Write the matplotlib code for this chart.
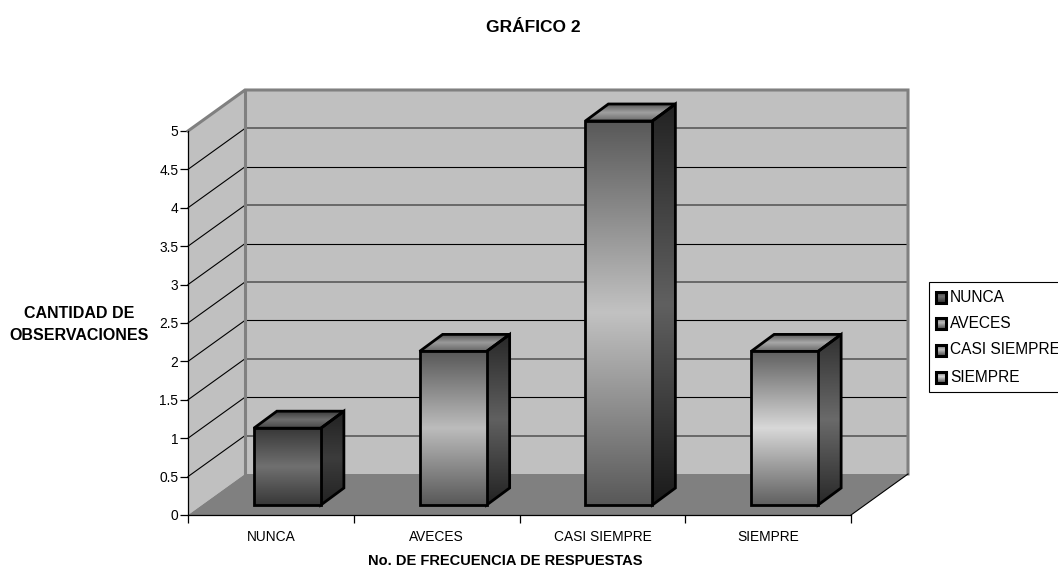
import numpy as np
import matplotlib
matplotlib.use('Agg')
import matplotlib.pyplot as plt
from matplotlib.colors import LinearSegmentedColormap
from matplotlib.patches import Polygon, Rectangle

plt.rcParams['font.family'] = ['Liberation Sans', 'DejaVu Sans']

categories = ['NUNCA', 'AVECES', 'CASI SIEMPRE', 'SIEMPRE']
values = [1, 2, 5, 2]
yticks = [0, 0.5, 1, 1.5, 2, 2.5, 3, 3.5, 4, 4.5, 5]
yticklabels = ['0', '0.5', '1', '1.5', '2', '2.5', '3', '3.5', '4', '4.5', '5']

W, H = 1058, 567
# front plane of the fake 3d box, in pixels
L, R, T, B = 188, 851, 131, 515
XU = (R - L) / 4.0
YU = (B - T) / 5.0

# depth of the box and of the bars, in data units
DX, DY = 57 / XU, 41 / YU
BAR_W = 67 / XU
BAR_DX, BAR_DY = 23 / XU, 17 / YU
BAR_SHIFT, BAR_BASE = 16.5 / XU, 10 / YU

front_cols = [('#383838', '#707070', '#383838'),
              ('#585858', '#bcbcbc', '#585858'),
              ('#585858', '#c2c2c2', '#585858'),
              ('#606060', '#d8d8d8', '#606060')]
side_cols = [('#222222', '#3c3c3c', '#222222'),
             ('#282828', '#606060', '#222222'),
             ('#222222', '#606060', '#1a1a1a'),
             ('#303030', '#6a6a6a', '#282828')]
top_cols = [('#3a3a3a', '#6e6e6e', '#484848'),
            ('#505050', '#9a9a9a', '#666666'),
            ('#585858', '#a0a0a0', '#6a6a6a'),
            ('#585858', '#a8a8a8', '#6a6a6a')]


def grad_poly(ax, pts, cols, z, lw=2.0):
    # vertical gradient clipped to a polygon
    pts = np.array(pts)
    cmap = LinearSegmentedColormap.from_list('g', cols)
    g = np.linspace(0, 1, 256).reshape(-1, 1)
    im = ax.imshow(g, cmap=cmap, aspect='auto', origin='upper', zorder=z,
                   extent=(pts[:, 0].min(), pts[:, 0].max(), pts[:, 1].min(), pts[:, 1].max()),
                   interpolation='bilinear', vmin=0, vmax=1)
    poly = Polygon(pts, closed=True, fill=False, ec='black', lw=lw, joinstyle='miter',
                   zorder=z + 0.5, clip_on=False)
    ax.add_patch(poly)
    # the box sticks out of the axes, so clip to the figure and the polygon only
    im.set_clip_box(ax.figure.bbox)
    im.set_clip_path(poly)


fig = plt.figure(figsize=(W / 100, H / 100), dpi=100)
ax = fig.add_axes([L / W, 1 - B / H, (R - L) / W, (B - T) / H])

# back wall, side wall, floor
ax.add_patch(Polygon([(DX, DY), (4 + DX, DY), (4 + DX, 5 + DY), (DX, 5 + DY)],
                     fc='#c0c0c0', ec='none', clip_on=False, zorder=1))
ax.add_patch(Polygon([(0, 0), (DX, DY), (DX, 5 + DY), (0, 5)],
                     fc='#c0c0c0', ec='none', clip_on=False, zorder=1))
ax.add_patch(Polygon([(0, 0), (4, 0), (4 + DX, DY), (DX, DY)],
                     fc='#808080', ec='none', clip_on=False, zorder=1))

for v in yticks[1:-1]:
    whole = float(v).is_integer()
    ax.plot([DX, 4 + DX], [v + DY, v + DY], color='black' if whole else '#505050',
            lw=0.8 if whole else 1.1, clip_on=False, zorder=2)
    ax.plot([0, DX], [v, v + DY], color='black', lw=0.8, clip_on=False, zorder=2)

# grey outline of the walls
ax.plot([0, DX, 4 + DX, 4 + DX], [5, 5 + DY, 5 + DY, DY], color='#808080', lw=2.2,
        clip_on=False, zorder=2, solid_joinstyle='miter')
ax.plot([DX, DX], [DY, 5 + DY], color='#808080', lw=2.2, clip_on=False, zorder=2)
ax.plot([4, 4 + DX], [0, DY], color='black', lw=0.8, clip_on=False, zorder=2)

for i, val in enumerate(values):
    x0 = i + (1 - BAR_W) / 2 + BAR_SHIFT
    x1 = x0 + BAR_W
    y0 = BAR_BASE
    y1 = BAR_BASE + val
    z = 3 + i
    grad_poly(ax, [(x1, y0), (x1 + BAR_DX, y0 + BAR_DY), (x1 + BAR_DX, y1 + BAR_DY), (x1, y1)], side_cols[i], z)
    grad_poly(ax, [(x0, y1), (x1, y1), (x1 + BAR_DX, y1 + BAR_DY), (x0 + BAR_DX, y1 + BAR_DY)], top_cols[i], z)
    grad_poly(ax, [(x0, y0), (x1, y0), (x1, y1), (x0, y1)], front_cols[i], z + 0.6)

ax.set_xlim(0, 4)
ax.set_ylim(0, 5)
ax.patch.set_visible(False)
for s in ['top', 'right']:
    ax.spines[s].set_visible(False)
for s in ['left', 'bottom']:
    ax.spines[s].set_linewidth(0.9)
    ax.spines[s].set_zorder(10)
ax.set_yticks(yticks)
ax.set_yticklabels(yticklabels, fontsize=9.9)
ax.set_xticks([0, 1, 2, 3, 4])
ax.set_xticklabels([])
ax.set_xticks([0.5, 1.5, 2.5, 3.5], minor=True)
ax.set_xticklabels(categories, minor=True, fontsize=9.9)
ax.tick_params(axis='x', which='minor', length=0, pad=10.5)
ax.tick_params(axis='x', which='major', length=6, width=0.9)
ax.tick_params(axis='y', length=6, width=0.9, pad=1)

fig.text(533 / W, 1 - 27 / H, 'GRÁFICO 2', ha='center', va='center', fontsize=12.5, fontweight='bold')
fig.text(79 / W, 1 - 324.5 / H, 'CANTIDAD DE\nOBSERVACIONES', ha='center', va='center',
         fontsize=11.5, fontweight='bold', linespacing=1.5)
fig.text(505 / W, 1 - 561 / H, 'No. DE FRECUENCIA DE RESPUESTAS', ha='center', va='center',
         fontsize=10.5, fontweight='bold')

# legend box runs off the right edge of the picture
leg_y = [297, 323, 350, 377]
leg_ax = fig.add_axes([0, 0, 1, 1])
leg_ax.set_xlim(0, W)
leg_ax.set_ylim(H, 0)
leg_ax.axis('off')
leg_ax.add_patch(Rectangle((928.5, 282), 140, 110, fc='white', ec='black', lw=0.8))
for i, name in enumerate(categories):
    y = leg_y[i]
    grad_poly(leg_ax, [(935.5, y - 5.5), (945.5, y - 5.5), (945.5, y + 5.5), (935.5, y + 5.5)],
              front_cols[i], 3, lw=2.2)
    leg_ax.text(950, y, name, fontsize=11.2, ha='left', va='center', clip_on=False)
leg_ax.set_xlim(0, W)
leg_ax.set_ylim(H, 0)

fig.savefig('out.png', dpi=100)
